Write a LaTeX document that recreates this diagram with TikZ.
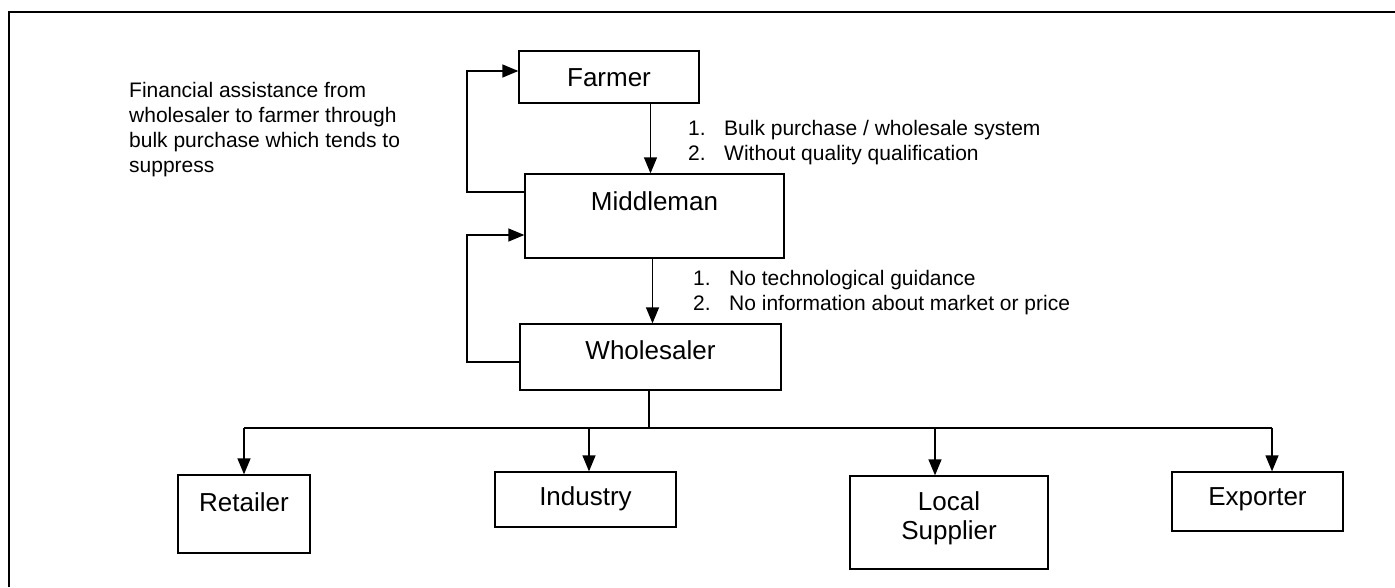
\documentclass[tikz,border=0pt]{standalone}
\usepackage{fontspec}
\setmainfont{Liberation Sans}
\usetikzlibrary{arrows.meta, positioning, calc}
\tikzset{
    box/.style={draw=black, line width=1.3pt, fill=white, align=center, inner sep=0pt,
        font=\fontsize{26}{29}\selectfont, text height=19pt},
    arrow/.style={-{Triangle[length=16pt, width=13pt]}, line width=1.3pt},
    line/.style={line width=1.3pt},
    note/.style={align=left, anchor=north west, inner sep=0pt, font=\fontsize{21}{25}\selectfont}
}
\newcommand{\itemno}[1]{\makebox[36pt][l]{#1}}

\begin{document}
\begin{tikzpicture}[x=1pt, y=-1pt]
    \useasboundingbox (0,0) rectangle (1395,587);
    % frame
    \draw [line width=1.6pt] (9,587) -- (9,12) -- (1395,12);

    % chain
    \node [box, minimum width=180pt, minimum height=52pt, text depth=0pt] (far) at (609,77) {Farmer};
    \node [box, minimum width=259pt, minimum height=84pt, text depth=31pt] (mid) at (654.5,216) {Middleman};
    \node [box, minimum width=261pt, minimum height=66pt, text depth=15pt] (whs) at (650.5,357) {Wholesaler};

    % buyers
    \node [box, minimum width=132pt, minimum height=78pt, text depth=25pt] (ret) at (244,514) {Retailer};
    \node [box, minimum width=181pt, minimum height=55pt, text depth=8pt] (ind) at (585.5,499.5) {Industry};
    \node [box, minimum width=198pt, minimum height=93pt, text height=48pt, text depth=15pt] (loc) at (949,522.5) {Local\\Supplier};
    \node [box, minimum width=171pt, minimum height=59pt, text depth=12pt] (exp) at (1257.5,501.5) {Exporter};

    % notes
    \node [note] (fin) at (129,82) {Financial assistance from\\wholesaler to farmer through\\bulk purchase which tends to\\suppress};
    \node [note] (n1) at (688,120) {\itemno{1.}Bulk purchase / wholesale system\\\itemno{2.}Without quality qualification};
    \node [note] (n2) at (693,270) {\itemno{1.}No technological guidance\\\itemno{2.}No information about market or price};

    \coordinate (loopx) at (467,0);
    \coordinate (bus) at (650,428);

    \draw [arrow] ([xshift=-4pt]mid.north |- far.south) -- ([xshift=-4pt]mid.north);
    \draw [arrow] ([xshift=-2pt]mid.south) -- ([xshift=-2pt]mid.south |- whs.north);

    % feedback loops
    \draw [arrow] ([yshift=24pt]mid.west) -- ([yshift=24pt]mid.west -| loopx) |- ([yshift=6pt]far.west);
    \draw [arrow] ([yshift=-5pt]whs.west) -- ([yshift=-5pt]whs.west -| loopx) |- ([yshift=-19pt]mid.west);

    % distribution
    \draw [line] ([xshift=-1.5pt]whs.south) -- ([xshift=-1.5pt]whs.south |- bus);
    \draw [line] (ret.north |- bus) -- ([xshift=14.5pt]exp.north |- bus);
    \draw [arrow] (ret.north |- bus) -- (ret.north);
    \draw [arrow] ([xshift=3.5pt]ind.north |- bus) -- ([xshift=3.5pt]ind.north);
    \draw [arrow] ([xshift=-14pt]loc.north |- bus) -- ([xshift=-14pt]loc.north);
    \draw [arrow] ([xshift=14.5pt]exp.north |- bus) -- ([xshift=14.5pt]exp.north);
\end{tikzpicture}
\end{document}
